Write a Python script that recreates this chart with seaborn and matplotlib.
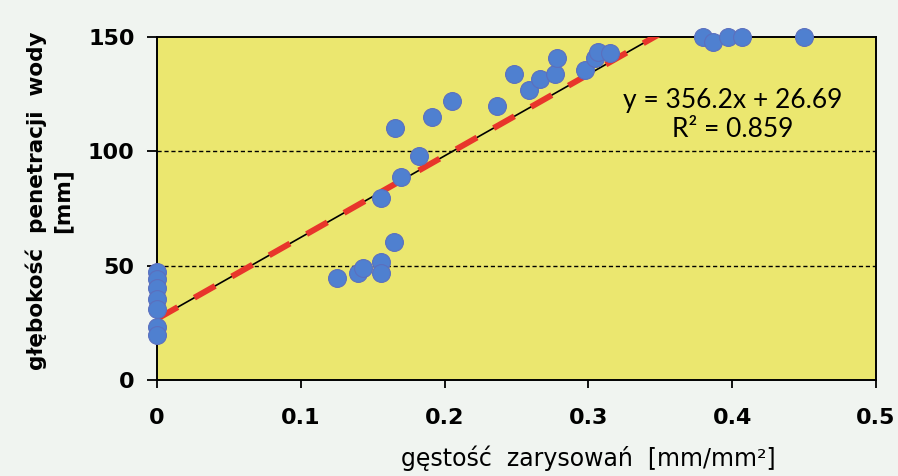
import numpy as np
import matplotlib.pyplot as plt
import seaborn as sns
import pandas as pd

# scratch density [mm/mm2] vs water penetration depth [mm]
gestosc = [0, 0, 0, 0, 0, 0, 0,
           0.125, 0.140, 0.1435, 0.1556, 0.1556, 0.1648,
           0.1655, 0.191, 0.205, 0.182, 0.170, 0.1558,
           0.2366, 0.2485, 0.259, 0.2663, 0.2768, 0.278,
           0.2976, 0.3046, 0.307, 0.315,
           0.380, 0.387, 0.397, 0.4066, 0.450]
glebokosc = [47, 44, 40, 35.5, 31, 23, 19.5,
             44.4, 46.6, 48.8, 51.7, 46.6, 60.4,
             110.3, 115, 121.8, 97.8, 88.5, 79.6,
             119.8, 133.5, 126.6, 131.7, 133.6, 140.7,
             135.4, 140.5, 143.4, 142.9,
             150, 147.7, 150, 150, 150]

# trend line from the chart
slope = 356.2
intercept = 26.69
r2 = 0.859

x_ticks = [0, 0.1, 0.2, 0.3, 0.4, 0.5]
x_labels = ["0", "0.1", "0.2", "0.3", "0.4", "0.5"]
y_ticks = [0, 50, 100, 150]
y_labels = ["0", "50", "100", "150"]

df = pd.DataFrame({"x": gestosc, "y": glebokosc})

sns.set_style("white")
plt.rcParams['font.family'] = ['DejaVu Sans']
plt.rcParams['text.color'] = 'black'
plt.rcParams['xtick.color'] = 'black'
plt.rcParams['ytick.color'] = 'black'

fig = plt.figure(figsize=(8.98, 4.76), dpi=100)
fig.patch.set_facecolor("#f0f4f0")
ax = fig.add_axes([0.1748, 0.2017, 0.8007, 0.7212])
ax.set_facecolor("#ebe76f")

# trend line: thin black + thick red dashes
xl = np.array([0, 0.5])
ax.plot(xl, slope * xl + intercept, color="black", lw=1.2, zorder=2)
ax.plot(xl, slope * xl + intercept, color="#e8352b", lw=4.3,
        linestyle=(0, (4, 3.2)), zorder=3)

sns.scatterplot(data=df, x="x", y="y", ax=ax, s=165, color="#4f80d0",
                edgecolor="#5b6fbe", linewidth=0.8, clip_on=False, zorder=4)

ax.set_xlim(0, 0.5)
ax.set_ylim(0, 150)

for yy in [50, 100]:
    ax.axhline(yy, color="black", lw=1, linestyle=(0, (3, 2)), zorder=1)

ax.set_xticks(x_ticks)
ax.set_xticklabels(x_labels, fontsize=16, fontweight="bold")
ax.set_yticks(y_ticks)
ax.set_yticklabels(y_labels, fontsize=16, fontweight="bold")
ax.tick_params(axis="x", direction="out", length=6, width=1.3, pad=14, bottom=True)
ax.tick_params(axis="y", direction="out", length=7, width=1.3, pad=9, left=True)
for sp in ax.spines.values():
    sp.set_color("black")
    sp.set_linewidth(1.4)

ax.set_xlabel("")
ax.set_ylabel("")
fig.text(588 / 898, 1 - 458 / 476, "gęstość  zarysowań  [mm/mm²]",
         fontsize=17, ha="center", va="center")
fig.text(49 / 898, 1 - 201 / 476, "głębokość  penetracji  wody\n[mm]",
         fontsize=15.5, fontweight="bold", rotation=90, ha="center",
         va="center", multialignment="center", linespacing=1.3)

ax.text(0.80, 0.772, "y = 356.2x + 26.69\nR² = 0.859", transform=ax.transAxes,
        fontsize=19, family=["Lato", "DejaVu Sans"], ha="center", va="center",
        multialignment="center", linespacing=1.2)

plt.savefig("out.png", dpi=100)
